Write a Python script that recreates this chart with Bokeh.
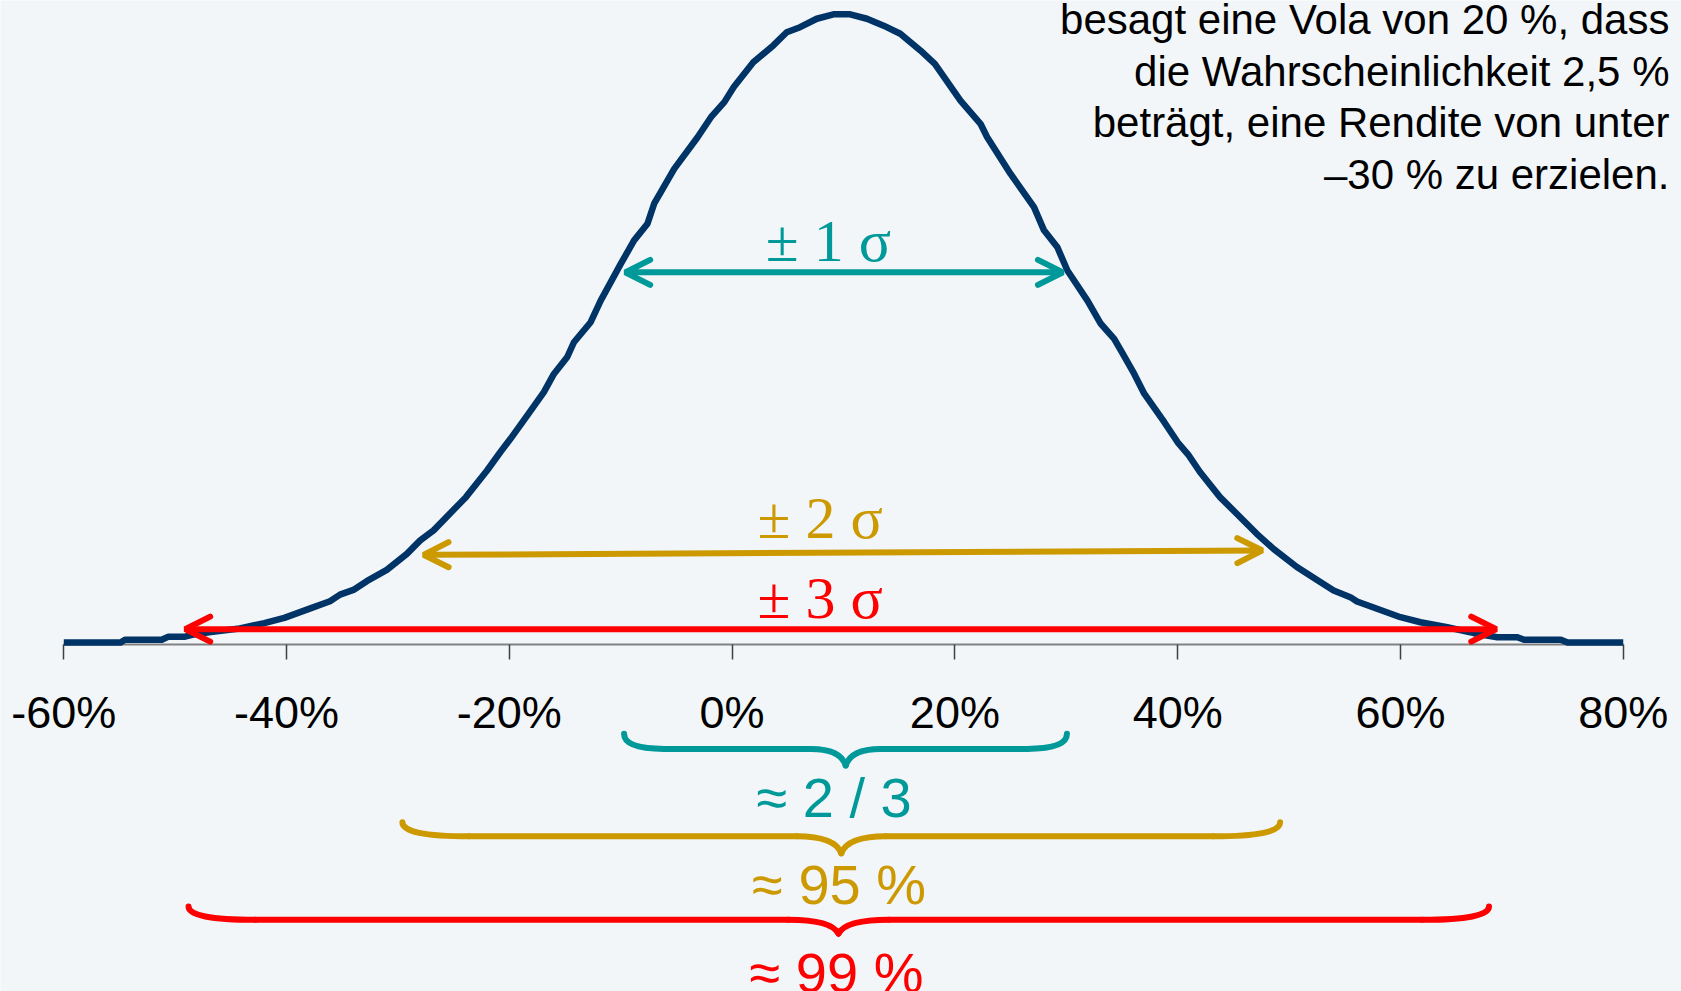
from bokeh.plotting import figure
from bokeh.models import Arrow, OpenHead, FixedTicker, PrintfTickFormatter, LinearAxis, Range1d
from bokeh.core.properties import value
from bokeh.embed import file_html
from bokeh.resources import INLINE

# ---- data -----------------------------------------------------------------
# annual return in %, and the height of the (simulated) density curve
returns_pct = [-60.0, -54.9, -54.5, -51.2, -50.6, -49.1, -48.3, -46.8, -44.4, -42.0,
               -40.2, -37.8, -36.1, -35.2, -34.0, -32.8, -31.0, -29.2, -28.0, -26.8,
               -23.9, -22.0, -20.8, -19.9, -18.4, -16.9, -16.0, -14.8, -14.2, -12.7,
               -11.8, -10.0, -8.8, -7.6, -7.0, -5.2, -3.1, -1.9, -0.7, 0.15,
               1.9, 3.7, 4.9, 6.1, 7.6, 9.1, 10.6, 12.1, 13.6, 15.1,
               16.9, 18.2, 20.5, 22.3, 22.9, 25.0, 27.1, 28.0, 29.2, 30.1,
               31.9, 33.1, 34.3, 34.9, 36.1, 37.0, 38.8, 40.0, 41.0, 42.0,
               43.8, 45.3, 47.1, 48.6, 50.7, 52.8, 54.0, 55.5, 56.1, 57.9,
               60.0, 61.8, 64.2, 66.6, 68.7, 70.5, 71.1, 74.4, 75.0, 80.0]
density = [0.007, 0.007, 0.016, 0.016, 0.026, 0.026, 0.033, 0.041, 0.051, 0.069,
           0.086, 0.117, 0.139, 0.160, 0.175, 0.203, 0.239, 0.290, 0.333, 0.365,
           0.471, 0.556, 0.615, 0.657, 0.731, 0.806, 0.864, 0.918, 0.965, 1.029,
           1.098, 1.215, 1.290, 1.343, 1.407, 1.518, 1.619, 1.683, 1.731, 1.779,
           1.858, 1.912, 1.954, 1.970, 1.997, 2.011, 2.011, 1.997, 1.975, 1.949,
           1.896, 1.853, 1.736, 1.662, 1.619, 1.502, 1.396, 1.322, 1.268, 1.194,
           1.098, 1.024, 0.976, 0.939, 0.864, 0.801, 0.710, 0.646, 0.604, 0.551,
           0.471, 0.418, 0.354, 0.306, 0.248, 0.200, 0.173, 0.152, 0.138, 0.115,
           0.088, 0.072, 0.056, 0.037, 0.024, 0.024, 0.016, 0.016, 0.007, 0.007]

tick_values = [-60, -40, -20, 0, 20, 40, 60, 80]

sigma_labels = ["± 1 σ", "± 2 σ", "± 3 σ"]
share_labels = ["≈ 2 / 3", "≈ 95 %", "≈ 99 %"]
band_colors = ["#009999", "#CC9900", "#FF0000"]

# arrow ends (return %) and heights
arrow_from = [-9.6, -27.7, -49.1]
arrow_to = [29.7, 47.6, 68.6]
arrow_y_left = [1.188, 0.287, 0.050]
arrow_y_right = [1.188, 0.301, 0.050]

# braces below the axis: left end, right end, centre (return %)
brace_left = [-9.7, -29.6, -48.8]
brace_right = [30.06, 49.2, 67.95]
brace_mid = [10.2, 9.8, 9.55]

note_lines = ["besagt eine Vola von 20 %, dass",
              "die Wahrscheinlichkeit 2,5 %",
              "beträgt, eine Rendite von unter",
              "–30 % zu erzielen."]

# ---- styling / layout ---------------------------------------------------
BG = "#F2F6F9"
NAVY = "#003366"

p = figure(width=1681, height=991, output_backend="svg", toolbar_location=None,
           x_range=Range1d(-65.68, 85.23), y_range=Range1d(-1.1059, 2.0552),
           x_axis_location=None, y_axis_location=None,
           min_border_left=0, min_border_right=0, min_border_top=0, min_border_bottom=0)
p.background_fill_color = BG
p.border_fill_color = BG
p.outline_line_color = None
p.xgrid.visible = False
p.ygrid.visible = False

xaxis = LinearAxis(fixed_location=0, bounds=(-60, 80),
                   ticker=FixedTicker(ticks=tick_values),
                   formatter=PrintfTickFormatter(format="%d%%"))
xaxis.axis_line_color = "#808080"
xaxis.axis_line_width = 2
xaxis.major_tick_line_color = "#404040"
xaxis.major_tick_line_width = 1.5
xaxis.major_tick_in = 0
xaxis.major_tick_out = 15
xaxis.minor_tick_line_color = None
xaxis.major_label_text_font = "Liberation Sans"
xaxis.major_label_text_font_size = "45px"
xaxis.major_label_text_color = "#000000"
xaxis.major_label_standoff = 27
xaxis.level = "underlay"
p.add_layout(xaxis, "below")

p.line(returns_pct, density, line_width=6.5, line_color=NAVY, line_join="round")

for x0, x1, y0, y1, c in zip(arrow_from, arrow_to, arrow_y_left, arrow_y_right, band_colors):
    p.add_layout(Arrow(x_start=x0, y_start=y0, x_end=x1, y_end=y1,
                       line_color=c, line_width=6,
                       start=OpenHead(size=25, line_color=c, line_width=6, line_cap="round"),
                       end=OpenHead(size=25, line_color=c, line_width=6, line_cap="round")))

p.text(x=[8.65, 7.9, 7.9], y=[1.289, 0.406, 0.149], text=sigma_labels,
       text_color=band_colors, text_font=value("Liberation Serif"),
       text_font_size="60px", text_align="center", text_baseline="middle")

# braces
brace_tip = [-0.284, -0.566, -0.835]
brace_flat = [-0.332, -0.611, -0.877]
brace_point = [-0.385, -0.665, -0.921]
corner_w = [3.6, 6.0, 6.0]
centre_w = [3.1, 4.0, 4.5]
qx0, qy0, qx1, qy1, qcx, qcy, qc = [], [], [], [], [], [], []
sx0, sy0, sx1, sy1, sc = [], [], [], [], []
for xl, xr, xm, yt, yf, yp, dx, dm, c in zip(brace_left, brace_right, brace_mid, brace_tip,
                                              brace_flat, brace_point, corner_w, centre_w, band_colors):
    curves = [((xl, yt), (xl + dx, yf), (xl, yf)),
              ((xm - dm, yf), (xm, yp), (xm - 0.15 * dm, yf)),
              ((xm, yp), (xm + dm, yf), (xm + 0.15 * dm, yf)),
              ((xr - dx, yf), (xr, yt), (xr, yf))]
    for (a, b, ctl) in curves:
        qx0.append(a[0]); qy0.append(a[1]); qx1.append(b[0]); qy1.append(b[1])
        qcx.append(ctl[0]); qcy.append(ctl[1]); qc.append(c)
    for a, b in [(xl + dx, xm - dm), (xm + dm, xr - dx)]:
        sx0.append(a); sx1.append(b); sy0.append(yf); sy1.append(yf); sc.append(c)

p.quadratic(x0=qx0, y0=qy0, x1=qx1, y1=qy1, cx=qcx, cy=qcy, line_color=qc,
            line_width=6, line_cap="round")
p.segment(x0=sx0, y0=sy0, x1=sx1, y1=sy1, line_color=sc, line_width=6, line_cap="round")

p.text(x=[9.15, 9.6, 9.37], y=[-0.487, -0.766, -1.045], text=share_labels,
       text_color=band_colors, text_font=value("Liberation Sans"),
       text_font_size="56px", text_align="center", text_baseline="middle")

note_y = [1.9946 - i * 0.1646 for i in range(len(note_lines))]
p.text(x=[84.15] * len(note_lines), y=note_y, text=note_lines, text_color="#000000",
       text_font=value("Liberation Sans"), text_font_size="42px",
       text_align="right", text_baseline="middle")

open("out.html", "w").write(file_html(p, INLINE))
